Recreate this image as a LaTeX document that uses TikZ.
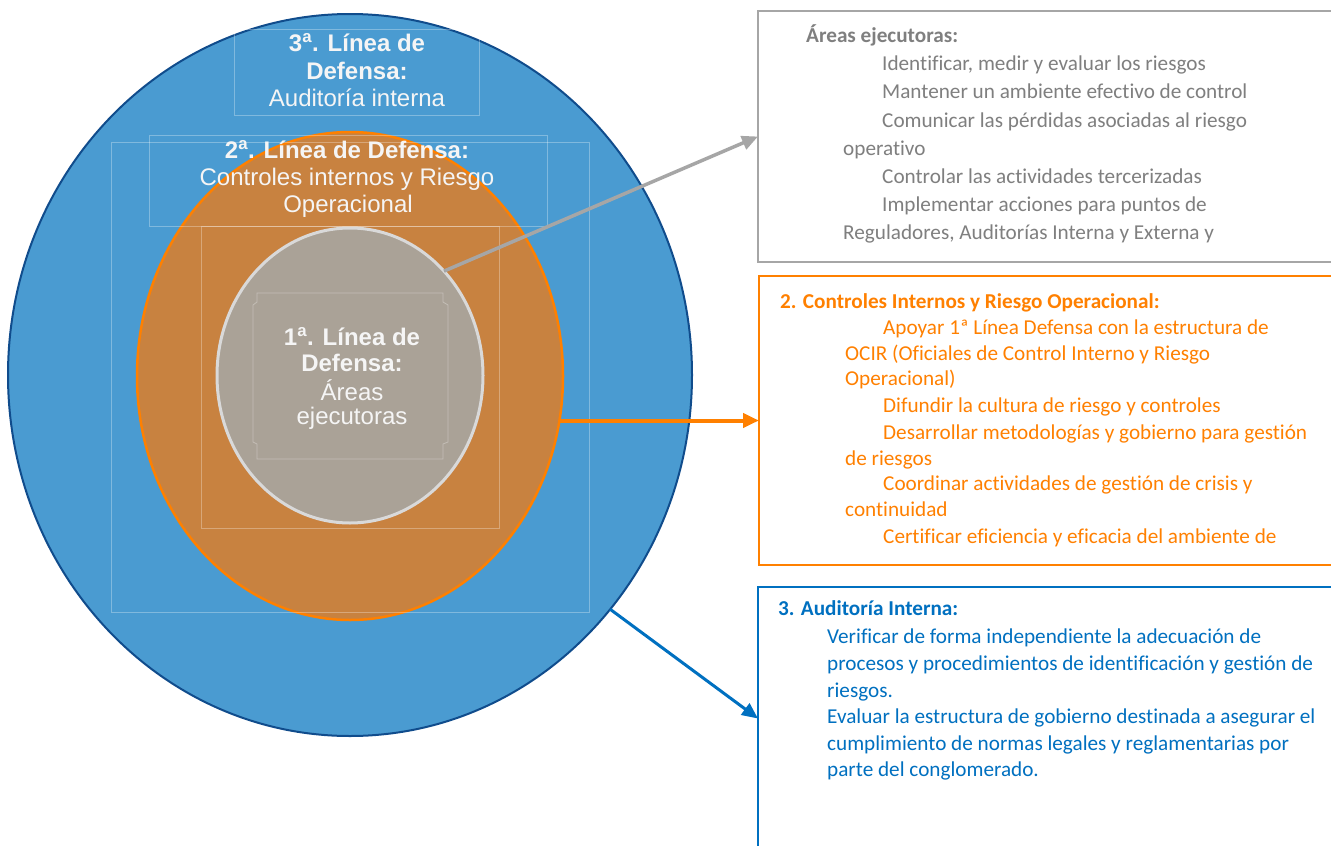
\documentclass[tikz,border=0pt]{standalone}
\usepackage{fontspec}
\setmainfont{Liberation Sans}
\newfontfamily\calib[Ligatures=NoCommon]{Carlito}
\usetikzlibrary{arrows.meta,shapes.geometric}
\definecolor{bluefill}{RGB}{74,155,209}
\definecolor{blueedge}{RGB}{16,76,140}
\definecolor{orangefill}{RGB}{200,130,64}
\definecolor{orangeedge}{RGB}{255,128,0}
\definecolor{grayfill}{RGB}{170,162,151}
\definecolor{grayedge}{RGB}{217,217,217}
\definecolor{boxgray}{RGB}{166,166,166}
\definecolor{txtgray}{RGB}{127,127,127}
\definecolor{boxorange}{RGB}{255,128,0}
\definecolor{boxblue}{RGB}{0,112,192}
\begin{document}
\begin{tikzpicture}[x=1pt,y=-1pt,
  ring/.style={ellipse,inner sep=0pt,outer sep=0pt},
  circtxt/.style={anchor=base,inner sep=0pt,text=white!96!black,font=\fontsize{24}{27}\selectfont},
  circbold/.style={anchor=base,inner sep=0pt,text=white!96!black,font=\fontsize{24}{27}\selectfont\bfseries},
  boxline/.style={anchor=base west,inner sep=0pt,font=\calib\fontsize{21.2}{26}\selectfont},
  boxtitle/.style={anchor=base west,inner sep=0pt,font=\calib\fontsize{21.2}{26}\selectfont\bfseries},
  infobox/.style={rectangle,anchor=north west,inner sep=0pt,outer sep=0pt,fill=white},
  faint/.style={draw=white,draw opacity=0.3,line width=0.8pt},
  conn/.style={line width=3.5pt,-{Triangle[length=16pt,width=14pt]}}]
\useasboundingbox (0,0) rectangle (1331,846);

% concentric ellipses
\node[ring,draw=blueedge,line width=2pt,fill=bluefill,minimum width=684pt,minimum height=722pt] (be) at (350,375) {};
\node[ring,draw=orangeedge,line width=2.5pt,fill=orangefill,minimum width=426pt,minimum height=488pt] (oe) at (350,376) {};
\node[ring,draw=grayedge,line width=3pt,fill=grayfill,minimum width=266pt,minimum height=295pt] (ge) at (350,375.5) {};

% faint placeholder frames
\draw[faint] (234,29) rectangle (479,115);
\draw[faint] (111,142) rectangle (589,612);
\draw[faint] (149,135) rectangle (547,226);
\draw[faint] (201,226) rectangle (499,528);
\draw[faint] (257,293) -- (443,293) -- (443,302) -- (448,305) -- (448,442) -- (443,444) -- (443,459)
  -- (257,459) -- (257,444) -- (253,442) -- (253,305) -- (257,302) -- cycle;

% circle labels
\node[circbold] (t3a) at (357,51.5) {3\textsuperscript{a}. Línea de};
\node[circbold] (t3b) at (357,79.5) {Defensa:};
\node[circtxt]  (t3c) at (357,106.5) {Auditoría interna};
\node[circbold] (t2a) at (347,158.5) {2\textsuperscript{a}. Línea de Defensa:};
\node[circtxt]  (t2b) at (347,185.5) {Controles internos y Riesgo};
\node[circtxt]  (t2c) at (348,212.5) {Operacional};
\node[circbold] (t1a) at (352,345.5) {1\textsuperscript{a}. Línea de};
\node[circbold] (t1b) at (352,371.5) {Defensa:};
\node[circtxt]  (t1c) at (352,400.5) {Áreas};
\node[circtxt]  (t1d) at (352,424.5) {ejecutoras};

% information boxes
\node[infobox,draw=boxgray,line width=2pt,minimum width=600pt,minimum height=251pt] (gbox) at (758,11) {};
\node[infobox,draw=boxorange,line width=2.5pt,minimum width=600pt,minimum height=289pt] (obox) at (759,276) {};
\node[infobox,draw=boxblue,line width=2.5pt,minimum width=600pt,minimum height=263pt] (bbox) at (758,587) {};

\begin{scope}[text=txtgray]
\node[boxtitle] (g0) at (806,42) {Áreas ejecutoras:};
\node[boxline] (g1) at (882,70) {Identificar, medir y evaluar los riesgos};
\node[boxline] (g2) at (882,98) {Mantener un ambiente efectivo de control};
\node[boxline] (g3) at (882,127) {Comunicar las pérdidas asociadas al riesgo};
\node[boxline] (g4) at (843,155) {operativo};
\node[boxline] (g5) at (882,183) {Controlar las actividades tercerizadas};
\node[boxline] (g6) at (882,211) {Implementar acciones para puntos de};
\node[boxline] (g7) at (843,239) {Reguladores, Auditorías Interna y Externa y};
\end{scope}

\begin{scope}[text=boxorange]
\node[boxtitle] (o0) at (780,308) {2. Controles Internos y Riesgo Operacional:};
\node[boxline] (o1) at (883,334) {Apoyar 1ª Línea Defensa con la estructura de};
\node[boxline] (o2) at (845,360) {OCIR (Oficiales de Control Interno y Riesgo};
\node[boxline] (o3) at (845,385) {Operacional)};
\node[boxline] (o4) at (883,412) {Difundir la cultura de riesgo y controles};
\node[boxline] (o5) at (883,439) {Desarrollar metodologías y gobierno para gestión};
\node[boxline] (o6) at (845,465) {de riesgos};
\node[boxline] (o7) at (883,490) {Coordinar actividades de gestión de crisis y};
\node[boxline] (o8) at (845,516) {continuidad};
\node[boxline] (o9) at (883,543) {Certificar eficiencia y eficacia del ambiente de};
\end{scope}

\begin{scope}[text=boxblue]
\node[boxtitle] (b0) at (778,615) {3. Auditoría Interna:};
\node[boxline] (b1) at (827,643) {Verificar de forma independiente la adecuación de};
\node[boxline] (b2) at (827,670) {procesos y procedimientos de identificación y gestión de};
\node[boxline] (b3) at (827,697) {riesgos.};
\node[boxline] (b4) at (827,723) {Evaluar la estructura de gobierno destinada a asegurar el};
\node[boxline] (b5) at (827,750) {cumplimiento de normas legales y reglamentarias por};
\node[boxline] (b6) at (827,776) {parte del conglomerado.};
\end{scope}

% connectors
\draw[conn,draw=boxgray,fill=boxgray] (ge.48) -- (gbox.west);
\draw[conn,draw=boxorange,fill=boxorange,line width=4pt] (obox.west -| oe.-11.9) -- (obox.west);
\draw[conn,draw=boxblue,fill=boxblue,line width=3pt] (be.-42.1) -- (bbox.west);
\end{tikzpicture}
\end{document}
